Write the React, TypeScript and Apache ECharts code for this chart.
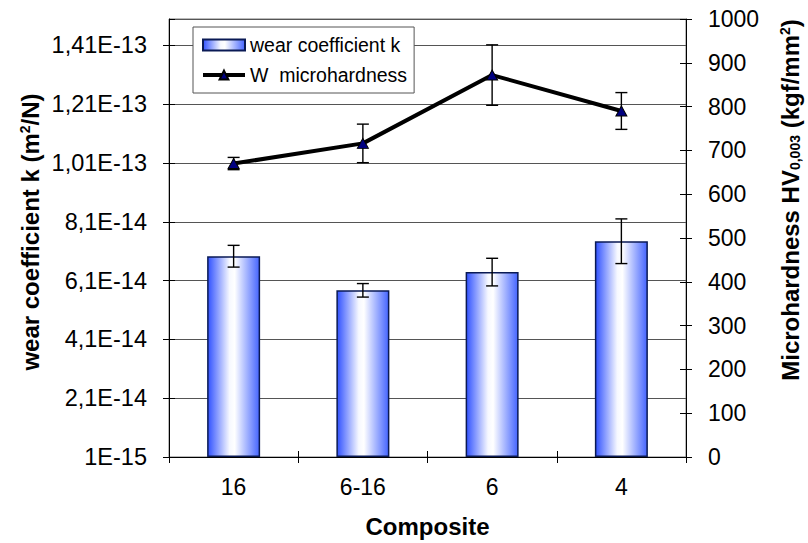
import React, { useEffect, useRef } from "react";
import * as echarts from "echarts";

// ---- data ----
const categories = ["16", "6-16", "6", "4"];
const wearK = [6.93e-14, 5.77e-14, 6.39e-14, 7.44e-14];
const wearKErr = [3.7e-15, 2.3e-15, 4.7e-15, 7.6e-15];
const hardness = [670, 716, 872, 790];
const hardnessErr = [14, 44, 69, 42];
const leftTickLabels = ["1E-15", "2,1E-14", "4,1E-14", "6,1E-14", "8,1E-14", "1,01E-13", "1,21E-13", "1,41E-13"];
const leftMin = 1e-15; // axis origin of left axis
const leftMax = 1.5e-13;
const leftStep = 2e-14;
const rightTicks = { min: 0, max: 1000, interval: 100 };

const UNIT = 1e-15;
const toLeft = (v: number) => (v - leftMin) / UNIT;

const FONT = "Arial, 'Liberation Sans', sans-serif";

export default function App() {
  const ref = useRef<HTMLDivElement>(null);
  useEffect(() => {
    if (!ref.current) return;
    const chart = echarts.init(ref.current, undefined, { renderer: "svg" });
    const barGradient = new echarts.graphic.LinearGradient(0, 0, 1, 0, [
      { offset: 0, color: "#3152ff" },
      { offset: 0.42, color: "#f6f8ff" },
      { offset: 0.52, color: "#ffffff" },
      { offset: 1, color: "#4565ff" },
    ]);
    const step = leftStep / UNIT;
    const leftMaxU = toLeft(leftMax);
    const errRender = (params: any, api: any) => {
      const x = api.value(0);
      const v = api.value(1);
      const e = api.value(2);
      const t = api.coord([x, v + e]);
      const b = api.coord([x, v - e]);
      const hw = 6;
      const st = { stroke: "#000", lineWidth: 1.4 };
      return {
        type: "group",
        children: [
          { type: "line", shape: { x1: t[0], y1: t[1], x2: b[0], y2: b[1] }, style: st },
          { type: "line", shape: { x1: t[0] - hw, y1: t[1], x2: t[0] + hw, y2: t[1] }, style: st },
          { type: "line", shape: { x1: b[0] - hw, y1: b[1], x2: b[0] + hw, y2: b[1] }, style: st },
        ],
      };
    };
    const innerTickAxis = {
      axisLine: { show: false },
      axisTick: { show: true, inside: true, length: 6, lineStyle: { color: "#000" } },
      axisLabel: { show: false },
      splitLine: { show: false },
    };
    chart.setOption({
      animation: false,
      backgroundColor: "#ffffff",
      textStyle: { fontFamily: FONT },
      grid: { left: 169, right: 122, top: 19, bottom: 86, show: true, borderColor: "#777", borderWidth: 1, backgroundColor: "transparent" },
      legend: {
        left: 193,
        top: 27,
        orient: "vertical",
        padding: [8, 7, 8, 8],
        itemGap: 10,
        itemWidth: 42,
        itemHeight: 11,
        backgroundColor: "#fff",
        borderColor: "#555",
        borderWidth: 1,
        borderRadius: 0,
        textStyle: { fontSize: 19.5, color: "#000", fontFamily: FONT },
        data: [
          { name: "wear coefficient k", icon: "rect" },
          { name: "W  microhardness", lineStyle: { width: 4, color: "#000" } },
        ],
      },
      xAxis: [
        {
          type: "category",
          data: categories,
          boundaryGap: true,
          axisLine: { lineStyle: { color: "#000", width: 1 } },
          axisTick: { show: true, length: 6, lineStyle: { color: "#000" } },
          axisLabel: { color: "#000", fontSize: 23, margin: 18, fontFamily: FONT },
          name: "Composite",
          nameLocation: "middle",
          nameGap: 57,
          nameTextStyle: { fontSize: 24, fontWeight: "bold", color: "#000", fontFamily: FONT },
          splitLine: { show: false },
        },
        {
          type: "category",
          data: categories,
          boundaryGap: true,
          position: "bottom",
          ...innerTickAxis,
        },
      ],
      yAxis: [
        {
          type: "value",
          position: "left",
          min: 0,
          max: leftMaxU,
          interval: step,
          axisLine: { show: true, lineStyle: { color: "#000", width: 1 } },
          axisTick: { show: true, length: 6, lineStyle: { color: "#000" } },
          axisLabel: {
            color: "#000",
            fontSize: 23.5,
            margin: 22,
            fontFamily: FONT,
            showMaxLabel: false,
            formatter: (v: number) => {
              const i = v / step;
              return Math.abs(i - Math.round(i)) < 1e-6 ? leftTickLabels[Math.round(i)] ?? "" : "";
            },
          },
          splitLine: { show: true, lineStyle: { color: "#555", width: 1 } },
        },
        {
          type: "value",
          position: "right",
          min: rightTicks.min,
          max: rightTicks.max,
          interval: rightTicks.interval,
          axisLine: { show: true, lineStyle: { color: "#000", width: 1 } },
          axisTick: { show: true, length: 6, lineStyle: { color: "#000" } },
          axisLabel: { color: "#000", fontSize: 23, margin: 22, fontFamily: FONT, formatter: (v: number) => String(v) },
          splitLine: { show: false },
        },
        {
          type: "value",
          position: "left",
          min: 0,
          max: leftMaxU,
          interval: step,
          ...innerTickAxis,
        },
        {
          type: "value",
          position: "right",
          min: rightTicks.min,
          max: rightTicks.max,
          interval: rightTicks.interval,
          ...innerTickAxis,
        },
      ],
      graphic: [
        {
          type: "text",
          x: 30,
          y: 232,
          rotation: Math.PI / 2,
          style: {
            text: "{b|wear coefficient k (m}{sup|2}{b|/N)}",
            align: "center",
            verticalAlign: "middle",
            rich: {
              b: { fontSize: 24, fontWeight: "bold", fill: "#000", fontFamily: FONT },
              sup: { fontSize: 14, fontWeight: "bold", fill: "#000", fontFamily: FONT, padding: [0, 0, 10, 0] },
            },
          },
        },
        {
          type: "text",
          x: 790,
          y: 200,
          rotation: Math.PI / 2,
          style: {
            text: "{b|Microhardness HV}{sub|0,003}{b| (kgf/mm}{sup|2}{b|)}",
            align: "center",
            verticalAlign: "middle",
            rich: {
              b: { fontSize: 24, fontWeight: "bold", fill: "#000", fontFamily: FONT },
              sub: { fontSize: 14, fontWeight: "bold", fill: "#000", fontFamily: FONT, padding: [10, 0, 0, 0] },
              sup: { fontSize: 14, fontWeight: "bold", fill: "#000", fontFamily: FONT, padding: [0, 0, 10, 0] },
            },
          },
        },
      ],
      series: [
        {
          name: "wear coefficient k",
          type: "bar",
          yAxisIndex: 0,
          barWidth: "41%",
          data: wearK.map(toLeft),
          itemStyle: { color: barGradient, borderColor: "#0a1a55", borderWidth: 1.5 },
          z: 2,
        },
        {
          name: "wear-err",
          type: "custom",
          yAxisIndex: 0,
          renderItem: errRender,
          data: wearK.map((v, i) => [i, toLeft(v), wearKErr[i] / UNIT]),
          z: 5,
        },
        {
          name: "hv-err",
          type: "custom",
          yAxisIndex: 1,
          renderItem: errRender,
          data: hardness.map((v, i) => [i, v, hardnessErr[i]]),
          z: 3,
        },
        {
          name: "W  microhardness",
          type: "line",
          yAxisIndex: 1,
          data: hardness,
          symbol: "triangle",
          symbolSize: [11, 10],
          lineStyle: { color: "#000", width: 4 },
          itemStyle: { color: "#000080", borderColor: "#000", borderWidth: 1 },
          z: 4,
        },
      ],
    });
    return () => chart.dispose();
  }, []);
  return (
    <div
      ref={ref}
      style={{ position: "fixed", left: 0, top: 0, width: 808, height: 543, background: "#fff" }}
    />
  );
}
